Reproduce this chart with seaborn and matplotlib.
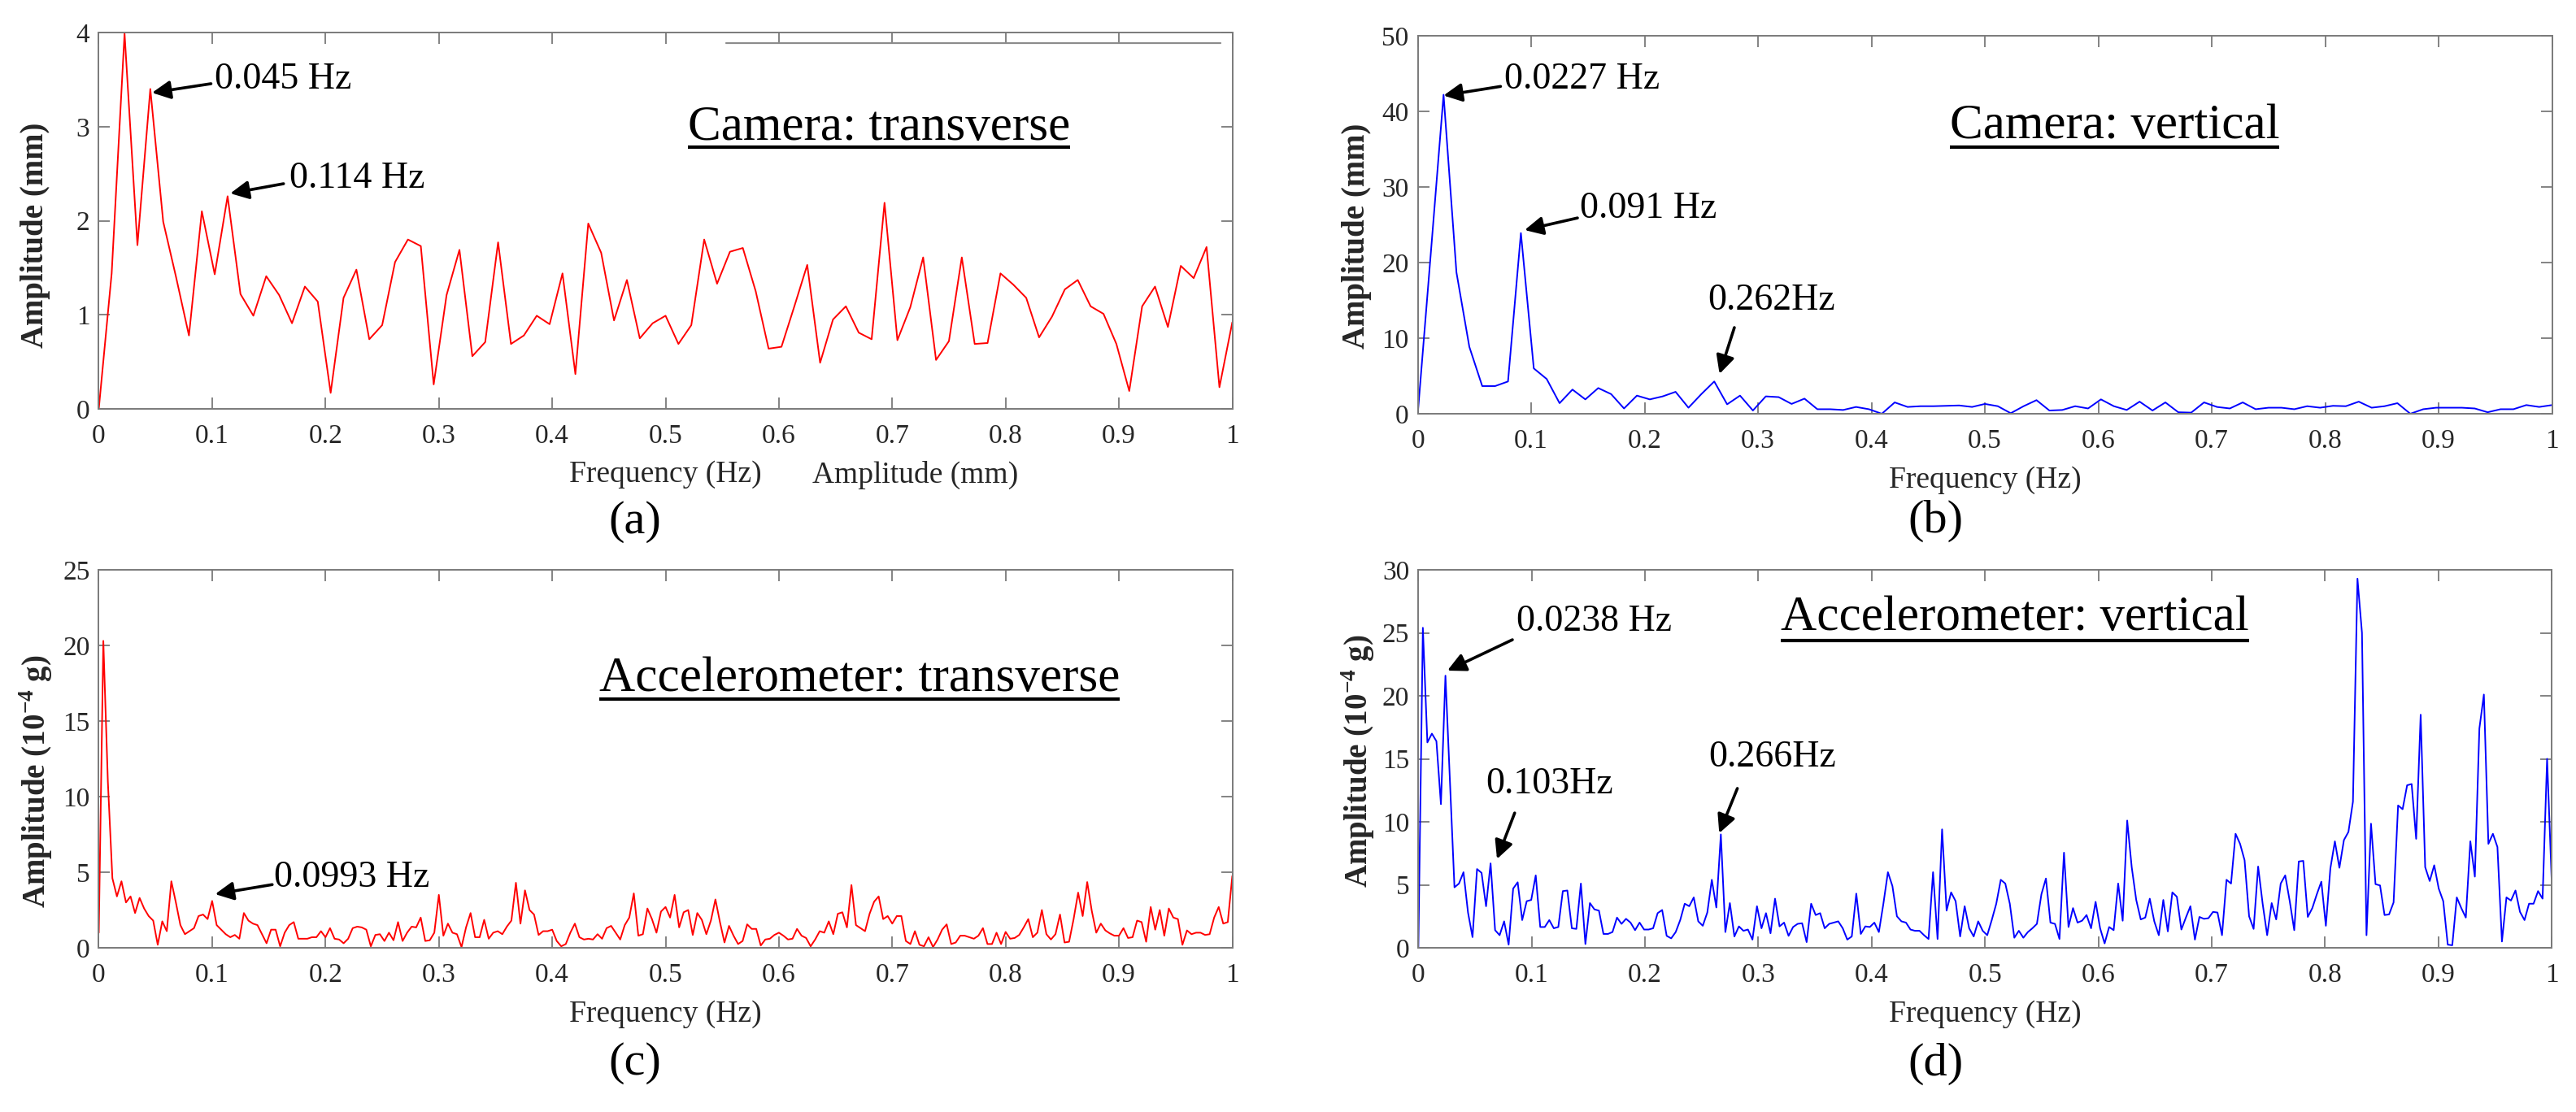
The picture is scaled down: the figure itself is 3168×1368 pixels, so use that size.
import matplotlib
matplotlib.use("Agg")
import matplotlib.pyplot as plt
import numpy as np
import seaborn as sns

# Frequency axis ticks shared by all four spectra
freq_ticks = [0, 0.1, 0.2, 0.3, 0.4, 0.5, 0.6, 0.7, 0.8, 0.9, 1.0]
freq_tick_labels = ["0", "0.1", "0.2", "0.3", "0.4", "0.5", "0.6", "0.7", "0.8", "0.9", "1"]

# (a) camera, transverse amplitude (mm), 89 bins from 0 to 1 Hz
cam_transverse = [
    0, 1.44, 3.99, 1.74, 3.40, 1.99, 1.40, 0.78, 2.10, 1.43, 2.26, 1.22, 0.99, 1.41, 1.21,
    0.91, 1.30, 1.14, 0.17, 1.18, 1.48, 0.74, 0.89, 1.56, 1.80, 1.73, 0.26, 1.21, 1.69, 0.56,
    0.71, 1.77, 0.69, 0.78, 0.99, 0.90, 1.44, 0.37, 1.97, 1.66, 0.94, 1.37, 0.75, 0.91, 0.99,
    0.69, 0.89, 1.80, 1.33, 1.67, 1.71, 1.25, 0.64, 0.66, 1.09, 1.53, 0.49, 0.95, 1.09, 0.81,
    0.74, 2.19, 0.73, 1.08, 1.61, 0.52, 0.72, 1.61, 0.69, 0.70, 1.44, 1.32, 1.18, 0.76, 0.98,
    1.27, 1.37, 1.09, 1.01, 0.69, 0.19, 1.09, 1.30, 0.87, 1.52, 1.39, 1.72, 0.23, 0.92,
]

# (b) camera, vertical amplitude (mm)
cam_vertical = [
    0, 21, 42.2, 18.7, 8.85, 3.66, 3.66, 4.27, 23.9, 6.0,
    4.6, 1.4, 3.2, 1.9, 3.4, 2.6, 0.7, 2.4, 1.9, 2.3,
    2.9, 0.8, 2.6, 4.27, 1.25, 2.4, 0.43, 2.3, 2.2, 1.3,
    2.0, 0.6, 0.6, 0.5, 0.9, 0.6, 0.0, 1.5, 0.9, 1.0,
    1.0, 1.05, 1.1, 0.9, 1.3, 1.0, 0.07, 1.0, 1.8, 0.43,
    0.5, 1.0, 0.7, 1.9, 1.0, 0.5, 1.6, 0.43, 1.5, 0.2,
    0.15, 1.5, 0.9, 0.7, 1.5, 0.6, 0.8, 0.8, 0.6, 1.0,
    0.8, 1.05, 1.0, 1.6, 0.8, 1.0, 1.4, 0.0, 0.6, 0.8,
    0.8, 0.8, 0.7, 0.2, 0.6, 0.6, 1.15, 0.9, 1.15,
]

# (c) accelerometer, transverse amplitude (1e-4 g)
acc_transverse = [
    1.0, 20.3, 11, 4.6, 3.4, 4.4, 3.0, 3.4, 2.3, 3.3, 2.6, 2.1, 1.8, 0.2, 1.75, 1.1,
    4.4, 3.0, 1.5, 0.9, 1.1, 1.3, 2.1, 2.2, 1.9, 3.1,
    1.5, 1.2, 0.9, 0.7, 0.85, 0.6,
    2.3, 1.8, 1.6, 1.5, 0.9, 0.3, 1.2, 1.2, 0.1,
    1.0, 1.5, 1.7, 0.6, 0.6, 0.6, 0.7, 0.7, 1.1,
    0.7, 1.3, 0.6, 0.55, 0.3, 0.6, 1.3,
    1.4, 1.35, 1.2, 0.1,
    0.85, 0.9, 0.45, 1.0, 0.5, 1.7,
    0.45, 1.0, 1.4, 1.35, 2.0,
    0.45, 0.5, 1.0, 3.5,
    0.8, 1.6, 1.0, 0.9, 0.05,
    1.35, 2.3, 0.7, 0.7, 1.85,
    0.6, 1.0, 1.1, 0.9, 1.4, 1.8, 4.3,
    1.6, 3.8, 2.5, 2.2, 0.85, 1.1, 1.1, 1.2, 0.45, 0.1,
    0.25, 1.0, 1.6, 0.7, 0.55, 0.6, 0.55, 0.9, 0.6, 1.3, 1.45, 1.0, 0.55, 1.5, 2.0, 3.6,
    0.8, 0.9, 2.6, 1.9, 1.0, 2.4, 2.7,
    2.0, 3.5, 1.35, 2.35, 2.5, 0.85, 2.3, 1.85, 0.9, 1.8,
    3.2, 1.7, 0.35, 1.45, 0.8, 0.25, 0.45, 1.55, 1.25, 1.25,
    0.15, 0.55, 0.6, 0.85, 1.0, 0.8, 0.55, 0.6, 1.25, 0.8,
    0.65, 0.1, 0.55, 1.1, 1.0, 1.75, 0.9, 2.25, 2.35, 1.35,
    4.15, 1.5, 1.3, 1.1, 2.25, 3.05, 3.4, 1.9, 2.1, 1.6,
    2.1, 2.1, 0.45, 0.25, 1.1, 0.2, 0.1, 0.7, 0.05, 0.55,
    1.2, 1.55, 0.25, 0.35, 0.8, 0.8, 0.7, 0.6, 0.8, 1.3,
    0.25, 0.25, 1.0, 0.25, 1.05, 0.6, 0.65, 0.85, 1.35, 1.9,
    0.7, 1.0, 2.5, 0.9, 0.55, 0.9, 2.2, 0.35, 0.4, 1.9,
    3.65, 2.1, 4.35, 2.45, 1.0, 1.6, 1.15, 0.95, 0.8, 0.8,
    1.3, 0.65, 0.7, 1.8, 1.7, 0.4, 2.7, 1.2, 2.5, 0.8,
    2.6, 2.0, 1.9, 0.2, 1.15, 0.9, 1.0, 1.0, 0.85, 0.9,
    2.0, 2.7, 1.6, 1.7, 4.75,
]

# (d) accelerometer, vertical amplitude (1e-4 g)
acc_vertical = [
    0, 25.4, 16.3, 17.0, 16.4, 11.4, 21.6, 13.2, 4.8, 5.1,
    6.0, 2.8, 0.85, 6.25, 5.95, 3.3, 6.7, 1.4, 1.0, 2.1,
    0.25, 4.7, 5.2, 2.2, 3.7, 3.8, 5.75, 1.65, 1.65, 2.2,
    1.55, 1.65, 4.5, 4.55, 1.55, 1.5, 5.1, 0.3, 3.55, 3.05,
    2.95, 1.1, 1.1, 1.25, 2.4, 1.9, 2.3, 2.0, 1.4, 2.0,
    1.45, 1.45, 1.55, 2.75, 3.0, 0.95, 0.75, 1.25, 2.2, 3.5,
    3.3, 4.0, 2.1, 1.75, 2.8, 5.4, 3.2, 9.0, 1.25, 3.55,
    0.9, 1.7, 1.35, 1.45, 0.65, 3.3, 1.55, 2.75, 1.15, 3.9,
    1.7, 2.0, 0.95, 1.65, 1.9,
    1.95, 0.45, 3.5, 2.6, 2.75, 1.55, 1.9, 2.0, 2.1, 1.55,
    0.65, 0.9, 4.3, 1.1, 1.7, 1.65, 2.0, 1.25, 3.5, 6.0,
    4.9, 2.5, 2.1, 2.0, 1.45, 1.35, 1.35, 1.0, 0.7, 6.0,
    0.7, 9.4, 2.95, 4.4, 3.7, 0.9, 3.3, 1.55, 0.9, 2.1,
    1.35, 1.0, 2.2, 3.5, 5.4, 5.1, 3.5, 0.8, 1.35, 0.8,
    1.25, 1.55, 1.9, 4.25, 5.5, 2.0, 1.9, 0.7, 7.55, 1.65,
    3.15, 2.0, 2.15, 2.6, 1.55, 3.65, 1.55, 0.35, 1.65, 1.4,
    5.1, 2.15, 10.1, 6.4, 3.8, 2.25, 2.4, 3.9, 2.1, 1.0,
    3.8, 1.3, 4.4,
    4.05, 1.45, 2.4, 3.3, 0.65, 2.45, 2.3, 2.35, 2.85, 2.8,
    1.0, 5.4, 5.1, 9.05, 8.25, 6.95, 2.5, 1.5, 6.45, 3.5,
    1.0, 3.55, 2.25, 5.1, 5.75, 3.7, 1.4, 6.85, 6.9, 2.45,
    3.15, 4.25, 5.25, 1.75, 6.3, 8.45, 6.35, 8.55, 9.2, 11.6,
    29.3, 25.0, 1.0, 9.85, 5.05, 4.95, 2.6, 2.65, 3.6, 11.3,
    11.0, 12.9, 13.0, 8.65, 18.5, 6.4, 5.3, 6.55, 4.7, 3.7,
    0.25, 0.2, 4.0, 3.15, 2.4, 8.45, 5.65, 17.4, 20.1, 8.25,
    9.05, 8.0, 0.5, 4.0, 3.75, 4.55, 2.85, 2.2, 3.5, 3.5,
    4.5, 3.9, 15.0, 5.5,
]

cam_t_yticks = [0, 1, 2, 3, 4]
cam_v_yticks = [0, 10, 20, 30, 40, 50]
acc_t_yticks = [0, 5, 10, 15, 20, 25]
acc_v_yticks = [0, 5, 10, 15, 20, 25, 30]

# peak annotations: (label, text xy, arrow start, arrow tip)
cam_t_peaks = [("0.045 Hz", (0.102, 3.50), (0.099, 3.456), (0.047, 3.36)),
               ("0.114 Hz", (0.168, 2.445), (0.163, 2.393), (0.116, 2.29))]
cam_v_peaks = [("0.0227 Hz", (0.076, 44.2), (0.073, 43.3), (0.0227, 42.1)),
               ("0.091 Hz", (0.143, 27.1), (0.1408, 25.9), (0.0942, 24.3))]
acc_t_peaks = [("0.0993 Hz", (0.1546, 4.62), (0.153, 4.18), (0.1026, 3.55))]
acc_v_peaks = [("0.0238 Hz", (0.0866, 25.9), (0.083, 24.45), (0.0256, 22.0))]

# labels sitting above a detached arrow: (label, text centre, arrow start, arrow tip)
cam_v_above = [("0.262Hz", (0.3115, 14.95), (0.2791, 11.4), (0.266, 5.27))]
acc_v_above = [("0.103Hz", (0.1155, 12.97), (0.085, 10.7), (0.0694, 7.05)),
               ("0.266Hz", (0.3126, 15.1), (0.2815, 12.65), (0.2655, 9.1))]

sns.set_theme(style="ticks")
plt.rcParams["font.family"] = ["Liberation Serif", "DejaVu Serif"]
plt.rcParams["mathtext.fontset"] = "custom"
plt.rcParams["mathtext.rm"] = "Liberation Serif"
plt.rcParams["mathtext.bf"] = "Liberation Serif:bold"

TICK_GREY = "#262626"
BOX_GREY = "#7a7a7a"

fig = plt.figure(figsize=(31.68, 13.68), dpi=100)

panels = [
    dict(amp=cam_transverse, color="red", yticks=cam_t_yticks,
         rect=[0.03835, 0.63231, 0.44003, 0.33845],
         ylabel="Amplitude (mm)", ylab_xy=(-0.0556, 0.462),
         title="Camera: transverse", title_xy=(0.5197, 0.715), uline=0.6955,
         peaks=cam_t_peaks, above=[], tag="(a)", tag_xy=(0.2465, 0.5307)),
    dict(amp=cam_vertical, color="blue", yticks=cam_v_yticks,
         rect=[0.55038, 0.62792, 0.44034, 0.33991],
         ylabel="Amplitude (mm)", ylab_xy=(-0.054, 0.47),
         title="Camera: vertical", title_xy=(0.469, 0.729), uline=0.7054,
         peaks=cam_v_peaks, above=cam_v_above, tag="(b)", tag_xy=(0.7513, 0.5314)),
    dict(amp=acc_transverse, color="red", yticks=acc_t_yticks,
         rect=[0.03835, 0.14766, 0.44003, 0.33991],
         ylabel=r"Amplitude (10$^{\mathbf{-4}}$ g)", ylab_xy=(-0.0556, 0.44),
         title="Accelerometer: transverse", title_xy=(0.4415, 0.6796), uline=0.659,
         peaks=acc_t_peaks, above=[], tag="(c)", tag_xy=(0.2465, 0.0439)),
    dict(amp=acc_vertical, color="blue", yticks=acc_v_yticks,
         rect=[0.5506, 0.14766, 0.43993, 0.33991],
         ylabel=r"Amplitude (10$^{\mathbf{-4}}$ g)", ylab_xy=(-0.053, 0.495),
         title="Accelerometer: vertical", title_xy=(0.3198, 0.841), uline=0.813,
         peaks=acc_v_peaks, above=acc_v_above, tag="(d)", tag_xy=(0.7513, 0.0431)),
]

arrow_kw = dict(arrowstyle="-|>", color="black", lw=2.6, mutation_scale=34,
                shrinkA=0, shrinkB=0)

renderer = fig.canvas.get_renderer()
axes = []
for p in panels:
    ax = fig.add_axes(p["rect"])
    axes.append(ax)
    amp = np.asarray(p["amp"], dtype=float)
    freq = np.linspace(0, 1, len(amp))
    sns.lineplot(x=freq, y=amp, ax=ax, color=p["color"], linewidth=1.4, legend=False)

    ax.set_xlim(0, 1)
    ax.set_ylim(p["yticks"][0], p["yticks"][-1])
    ax.set_xticks(freq_ticks)
    ax.set_xticklabels(freq_tick_labels)
    ax.set_yticks(p["yticks"])
    ax.set_yticklabels([str(v) for v in p["yticks"]])
    ax.tick_params(direction="in", length=10, width=1.3, color=BOX_GREY,
                   labelcolor=TICK_GREY, labelsize=24, top=True, right=True)
    ax.tick_params(axis="x", pad=13)
    ax.tick_params(axis="y", pad=8)
    for s in ax.spines.values():
        s.set_color(BOX_GREY)
        s.set_linewidth(1.4)

    ax.set_xlabel("Frequency (Hz)", fontsize=27, color=TICK_GREY)
    ax.xaxis.set_label_coords(0.5, -0.175)
    ax.xaxis.label.set_va("center")
    ax.set_ylabel(p["ylabel"], fontsize=28, fontweight="bold", color=TICK_GREY)
    ax.yaxis.set_label_coords(*p["ylab_xy"])
    ax.yaxis.label.set_va("center")

    # underlined panel title
    t = ax.text(*p["title_xy"], p["title"], transform=ax.transAxes, ha="left",
                va="baseline", fontsize=44, color="black")
    bb = t.get_window_extent(renderer).transformed(ax.transAxes.inverted())
    ax.plot([bb.x0, bb.x1], [p["uline"], p["uline"]], transform=ax.transAxes,
            color="black", lw=3, solid_capstyle="butt", clip_on=False)

    for label, txt_xy, start, tip in p["peaks"]:
        ax.annotate("", xy=tip, xytext=start, arrowprops=arrow_kw)
        ax.text(*txt_xy, label, ha="left", va="center", fontsize=33, color="black")
    for label, txt_xy, start, tip in p["above"]:
        ax.annotate("", xy=tip, xytext=start, arrowprops=arrow_kw)
        ax.text(*txt_xy, label, ha="center", va="center", fontsize=33, color="black")

    fig.text(*p["tag_xy"], p["tag"], ha="center", va="center", fontsize=42, color="black")

# stray legend fragments that appear in panel (a)
ax_a = axes[0]
ax_a.plot([0.5535, 0.9896], [0.9726, 0.9726], transform=ax_a.transAxes,
          color="#8c8c8c", lw=1.6)
ax_a.text(0.72, -0.175, "Amplitude (mm)", transform=ax_a.transAxes, ha="center",
          va="center", fontsize=27, color=TICK_GREY)

fig.savefig("out.png", dpi=100)
